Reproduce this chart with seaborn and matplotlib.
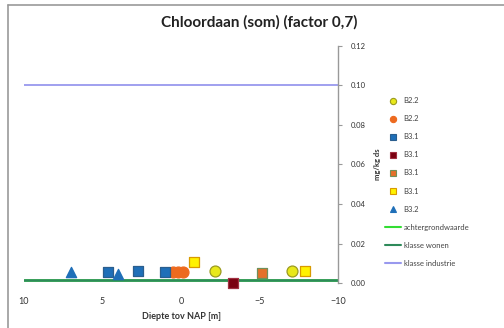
import matplotlib
matplotlib.use('Agg')
import matplotlib.pyplot as plt
import seaborn as sns
import pandas as pd
from matplotlib.lines import Line2D

# Data
labels = ['B2.2', 'B2.2', 'B3.1', 'B3.1', 'B3.1', 'B3.1', 'B3.2']
depth = [
    [-2.17, -7.07],
    [0.5, 0.2, -0.1],
    [4.65, 2.74, 1.02],
    [-3.3],
    [-5.16],
    [-0.83, -7.9],
    [7.0, 4.0],
]
conc = [
    [0.006, 0.006],
    [0.0056, 0.0056, 0.0056],
    [0.0056, 0.006, 0.0056],
    [0.0],
    [0.005],
    [0.0106, 0.006],
    [0.0056, 0.0045],
]
line_names = ['achtergrondwaarde', 'klasse wonen', 'klasse industrie']
line_values = [0.0014, 0.0014, 0.10]

# styling per series
faces = ['#E8E81A', '#ED6A1F', '#1F6FB8', '#7A0010', '#E5702A', '#FFF200', '#1F6FB8']
edges = ['#9A9A20', '#ED6A1F', '#2A5E8E', '#A03040', '#70905A', '#D89A00', '#1F6FB8']
markers = ['o', 'o', 's', 's', 's', 's', '^']
line_colors = ['#33DD33', '#2E8A5A', '#9999EE']

sns.set_style('white')
plt.rcParams['font.family'] = ['Lato', 'DejaVu Sans']

fig = plt.figure(figsize=(5.04, 3.28), dpi=100)
ax = fig.add_axes([0.0476, 0.137, 0.6234, 0.723])

for name, val, col in zip(line_names, line_values, line_colors):
    ax.axhline(val, color=col, lw=1.8 if name != 'klasse industrie' else 1.3, zorder=1)

handles = []
for lab, xs, ys, fc, ec, m in zip(labels, depth, conc, faces, edges, markers):
    df = pd.DataFrame({'x': xs, 'y': ys})
    sns.scatterplot(data=df, x='x', y='y', ax=ax, marker=m, s=62 if m != '^' else 55,
                    color=fc, edgecolor=ec, linewidth=0.9, zorder=3, clip_on=False, legend=False)
    handles.append(Line2D([], [], ls='none', marker=m, markersize=4.5, markerfacecolor=fc,
                          markeredgecolor=ec, markeredgewidth=0.8, label=lab))
for name, col in zip(line_names, line_colors):
    handles.append(Line2D([], [], color=col, lw=1.5, label=name))

ax.set_xlim(10, -10)
ax.set_ylim(0, 0.12)
ax.set_xticks([10, 5, 0, -5, -10])
ax.set_yticks([0, 0.02, 0.04, 0.06, 0.08, 0.10, 0.12])
ax.set_yticklabels(['0.00', '0.02', '0.04', '0.06', '0.08', '0.10', '0.12'])
ax.yaxis.tick_right()
ax.yaxis.set_label_position('right')
for s in ['top', 'left', 'bottom']:
    ax.spines[s].set_visible(False)
ax.spines['right'].set_color('#999999')
ax.spines['right'].set_linewidth(1.0)
ax.tick_params(axis='y', labelsize=5.5, colors='#333333', length=3, color='#999999', pad=6)
ax.tick_params(axis='x', labelsize=6.5, colors='#333333', length=2, color='#999999', pad=8)
ax.set_xlabel('Diepte tov NAP [m]', fontsize=6.5, fontweight='bold', color='#333333', labelpad=4)
ax.set_ylabel('mg/kg ds', fontsize=5.5, fontweight='bold', color='#333333', labelpad=6)
fig.text(259 / 504, 1 - 22 / 328, 'Chloordaan (som) (factor 0,7)', fontsize=11, fontweight='bold',
         color='#222222', ha='center', va='center')

leg = fig.legend(handles=handles, loc='upper left', bbox_to_anchor=(0.757, 0.713), frameon=False,
                 fontsize=5.5, handlelength=2.2, handletextpad=0.3, labelspacing=1.45,
                 borderaxespad=0)
for t in leg.get_texts():
    t.set_color('#444444')

# outer chart frame (left and top edges visible in the reference)
fig.add_artist(Line2D([8 / 504, 8 / 504], [0, 1 - 5 / 328], transform=fig.transFigure, color='#999999', lw=1.2))
fig.add_artist(Line2D([8 / 504, 1], [1 - 5 / 328, 1 - 5 / 328], transform=fig.transFigure, color='#999999', lw=1.2))

fig.savefig('out.png', dpi=100)
